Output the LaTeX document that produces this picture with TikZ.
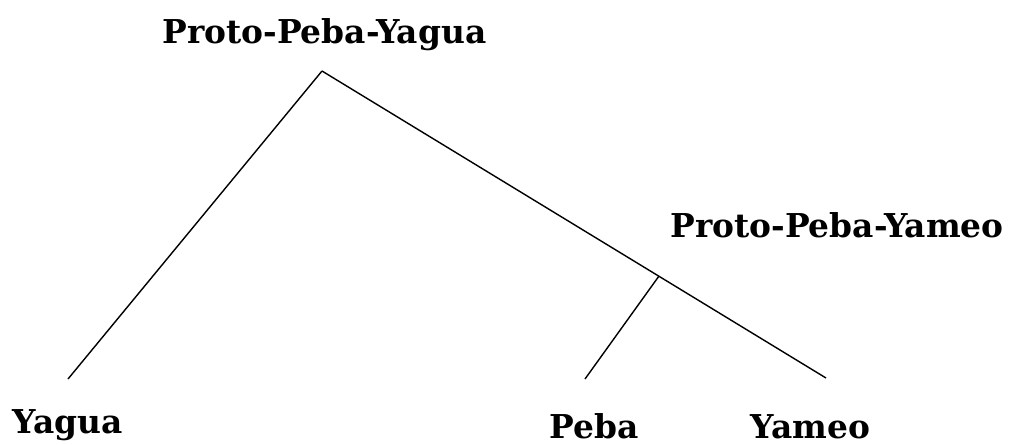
\documentclass[tikz,border=0pt]{standalone}
\usepackage{fontspec}
\setmainfont{DejaVu Serif}
\usepackage{tikz}

\begin{document}
\begin{tikzpicture}[x=0.02cm,y=-0.02cm]
\tikzset{lang/.style={font=\bfseries\fontsize{18.7}{22}\selectfont,inner sep=0pt,anchor=base west}}
\useasboundingbox (0,0) rectangle (1018,444);
\coordinate (ppy) at (322,71);
\coordinate (ppm) at (659,276);
\coordinate (yag) at (68,379);
\coordinate (peb) at (585,379);
\coordinate (yam) at (826,378);
\node (l1) at (162,43) [lang] {Proto-Peba-Yagua};
\node (l2) at (670,237) [lang] {Proto-Peba-Yameo};
\node (l3) at (12,433) [lang] {Yagua};
\node (l4) at (549,438) [lang] {Peba};
\node (l5) at (750,438) [lang] {Yameo};

\path[draw,line width=0.8pt]
(ppy) edge (yag)
(ppy) edge (yam)
(ppm) edge (peb);
\end{tikzpicture}
\end{document}
